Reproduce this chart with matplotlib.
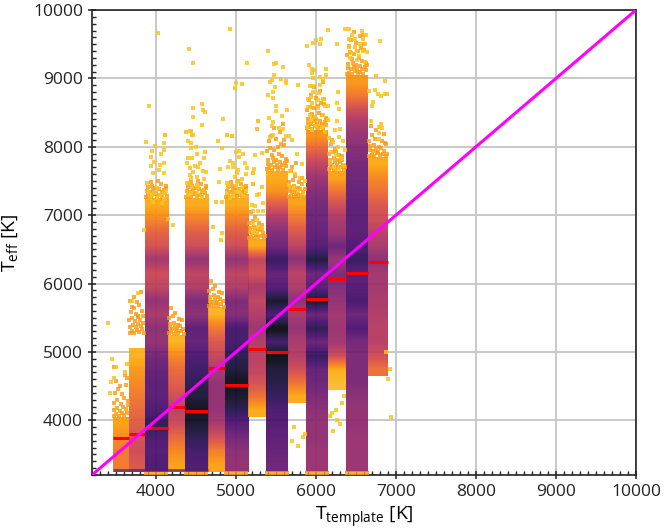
import matplotlib
matplotlib.use("Agg")
import matplotlib.pyplot as plt
import numpy as np
from matplotlib.ticker import MultipleLocator

# Teff bins are 200 K wide, first one starts at 3250 K.
TEFF_START = 3250
TEFF_STEP = 200

# left edge, right edge of each template column
COL_3500 = (3462, 3662)
COL_3750 = (3662, 3862)
COL_4000 = (3862, 4150)
COL_4250 = (4150, 4362)
COL_4500 = (4362, 4650)
COL_4750 = (4650, 4862)
COL_5000 = (4862, 5150)
COL_5250 = (5150, 5375)
COL_5500 = (5375, 5650)
COL_5750 = (5650, 5875)
COL_6000 = (5875, 6150)
COL_6250 = (6150, 6375)
COL_6500 = (6375, 6650)
COL_6750 = (6650, 6900)

# Density per Teff bin, from the bottom up (0 light, 1 black).
DENS_3500 = [0.32, 0.32, 0.27, 0.22]
DENS_3750 = [0.42, 0.46, 0.44, 0.40, 0.36, 0.32, 0.28, 0.24, 0.18]
DENS_4000 = [0.80, 0.78, 0.80, 0.88, 0.80, 0.76, 0.76, 0.74, 0.70, 0.62, 0.64, 0.56, 0.62, 0.50, 0.46, 0.58, 0.44, 0.38, 0.28, 0.20]
DENS_4250 = [0.22, 0.28, 0.36, 0.46, 0.52, 0.46, 0.40, 0.36, 0.28, 0.18]
DENS_4500 = [0.80, 0.82, 0.88, 0.94, 0.98, 0.92, 0.88, 0.84, 0.80, 0.74, 0.76, 0.64, 0.68, 0.54, 0.50, 0.62, 0.46, 0.40, 0.30, 0.20]
DENS_4750 = [0.22, 0.30, 0.44, 0.56, 0.62, 0.62, 0.62, 0.56, 0.48, 0.42, 0.32, 0.18]
DENS_5000 = [0.62, 0.64, 0.70, 0.78, 0.88, 0.94, 0.98, 0.92, 0.88, 0.82, 0.82, 0.66, 0.68, 0.54, 0.50, 0.62, 0.46, 0.40, 0.30, 0.20]
DENS_5250 = [0.20, 0.34, 0.44, 0.50, 0.52, 0.54, 0.60, 0.54, 0.50, 0.56, 0.44, 0.50, 0.20]
DENS_5500 = [0.72, 0.74, 0.76, 0.78, 0.80, 0.86, 0.90, 0.92, 1.00, 0.82, 1.00, 0.80, 0.95, 0.78, 0.74, 0.86, 0.72, 0.66, 0.56, 0.42, 0.26, 0.20]
DENS_5750 = [0.20, 0.34, 0.46, 0.54, 0.56, 0.62, 0.56, 0.64, 0.54, 0.52, 0.64, 0.50, 0.42, 0.32, 0.22]
DENS_6000 = [0.60, 0.60, 0.62, 0.62, 0.64, 0.68, 0.72, 0.74, 0.86, 0.72, 0.88, 0.72, 0.95, 0.76, 0.72, 0.92, 0.78, 0.74, 0.72, 0.70, 0.66, 0.60, 0.50, 0.38, 0.26]
DENS_6250 = [0.16, 0.20, 0.46, 0.58, 0.60, 0.58, 0.62, 0.66, 0.68, 0.60, 0.72, 0.60, 0.56, 0.46, 0.34, 0.22]
DENS_6500 = [0.60, 0.60, 0.60, 0.62, 0.62, 0.64, 0.68, 0.68, 0.68, 0.70, 0.80, 0.72, 0.82, 0.78, 0.76, 0.86, 0.80, 0.76, 0.76, 0.76, 0.74, 0.72, 0.70, 0.66, 0.62, 0.56, 0.46, 0.32, 0.24]
DENS_6750 = [0.34, 0.46, 0.52, 0.52, 0.54, 0.56, 0.58, 0.58, 0.64, 0.56, 0.52, 0.46, 0.42, 0.34, 0.28, 0.20]

# first bin index that is actually filled, for columns that end above 3250 K
LOW_BIN_5250 = 4
LOW_BIN_5750 = 5
LOW_BIN_6250 = 6
LOW_BIN_6750 = 7

# Single stars outside the solid columns.
STARS_T = [
    4025, 4925, 4412, 4462, 5137, 5000, 5075, 4987, 3912, 4575, 4462, 4587, 4612, 4462, 4837, 4575, 4112, 4375, 4437, 4462,
    4887, 4950, 5275, 5262, 3875, 4112, 3987, 4096, 3946, 4058, 4104, 3933, 3975, 3933, 4100, 4050, 4042, 4100, 3958, 3887,
    3904, 4008, 4125, 4104, 3946, 3987, 4050, 3925, 4008, 4104, 3967, 4071, 4208, 4154, 3854,
    4375, 4429, 4454, 4404, 4433, 4496, 4433, 4612, 4508, 4454, 4404, 4604, 4392, 4550, 4487, 4425, 4530, 4467, 4592, 4625,
    4425, 4508, 4604, 4383, 4440, 4400, 4508, 4454, 4529, 4592, 4437, 4396, 4508, 4571,
    4708, 4750, 4821, 4808, 4829, 4800, 4792, 4779, 4821, 4892, 4946, 5000, 5042, 5083, 4925, 4958, 5042, 5112, 4904, 4967,
    5133, 5029, 5008, 5121, 5208, 4987, 5079, 5029, 4883, 5208, 4904, 5000, 5071, 5125, 4892, 4999, 5050, 4967, 5092, 4925,
    5237, 5321, 5225, 5208, 5208, 5321, 5258, 5292, 5333, 5196, 5237, 5217, 5279, 5333, 5258, 5217, 5279, 5321, 5208, 5258,
    5400, 5475, 5500, 5583, 5475, 5450, 5425, 5487, 5558, 5625, 5625, 5467, 5404, 5458, 5500, 5500, 5642, 5570, 5417, 5275,
    5267, 5467, 5446, 5542, 5592, 5458, 5425, 5625, 5667,
    6150, 6067, 6000, 5967, 5887, 6050, 5917, 5946, 5975, 6125, 5946, 6125, 6050, 5967, 6083, 5779, 5925, 5967, 6050, 5958,
    6042, 5933, 5904, 6092, 6029, 5946, 6112, 6154, 5904, 6021, 6092, 5925, 5987, 5946, 6154, 5892, 6008, 6071, 5946, 6112,
    5700, 5760, 5820, 5680, 5740, 5800, 5860, 5660, 5720, 5780, 5840,
    6258, 6279, 6258, 6292, 6258, 6237, 6300, 6292, 6160, 6210, 6280, 6340, 6190, 6250, 6310, 6360, 6175, 6230, 6290, 6350,
    6362, 6412, 6571, 6625, 6454, 6487, 6412, 6592, 6550, 6612, 6412, 6487, 6517, 6592, 6437, 6633, 6542, 6425, 6508, 6612,
    6800, 6746, 6858, 6733, 6667, 6862, 6883, 6779, 6808, 6717, 6704, 6687, 6812, 6792, 6829, 6792, 6792,
    3400, 3420, 3440, 3480, 3640, 3505, 3615, 3450, 3700, 3780,
    5780, 5840, 5700, 5860, 5730, 6200, 6250, 6300, 6180, 6330, 6260, 6210, 6350, 6900, 6925, 6940, 6880,
]
STARS_TEFF = [
    9662, 9720, 9428, 9223, 9223, 8931, 8917, 8858, 8594, 8624, 8565, 8536, 8507, 8434, 8405, 8317, 8170, 8215, 8229, 8170,
    8170, 8156, 8375, 8258, 8064, 8176, 8015, 8059, 7942, 7888, 7952, 7854, 7771, 7723, 7757, 7732, 7659, 7610, 7610, 7464,
    7333, 7401, 7352, 7318, 7294, 7318, 7294, 7245, 7245, 7235, 7196, 7181, 6860, 6938, 6782,
    8210, 8229, 8176, 8088, 8049, 8000, 7976, 7918, 7888, 7830, 7830, 7830, 7757, 7757, 7718, 7683, 7700, 7635, 7649, 7635,
    7586, 7561, 7523, 7464, 7540, 7470, 7440, 7415, 7406, 7357, 7318, 7294, 7318, 7269,
    6826, 7186, 7186, 6636, 6733, 7674, 7479, 8083, 7976, 8171, 8161, 7927, 7937, 7888, 7791, 7766, 7854, 7757, 7708, 7708,
    7693, 7659, 7610, 7601, 7620, 7562, 7528, 7489, 7464, 7454, 7440, 7420, 7406, 7357, 7328, 7343, 7333, 7284, 7284, 7245,
    7879, 7912, 7669, 7610, 7450, 7406, 7294, 7304, 7172, 7147, 7133, 7060, 7060, 7060, 6928, 6880, 6830, 6810, 6758, 6733,
    9394, 9209, 9228, 9165, 9048, 8975, 8946, 8877, 8989, 8960, 8936, 8804, 8756, 8707, 8600, 8522, 8536, 8453, 8419, 8375,
    8258, 8366, 8302, 8268, 8253, 8170, 8146, 8161, 8161,
    9701, 9574, 9560, 9511, 9477, 9496, 9194, 9131, 9121, 9131, 9072, 9048, 9014, 9000, 8975, 8907, 8892, 8892, 8902, 8804,
    8780, 8731, 8692, 8697, 8682, 8634, 8595, 8600, 8575, 8560, 8463, 8463, 8429, 8390, 8390, 8283, 8302, 8293, 8244, 8219,
    8100, 7900, 7750, 7640, 7600, 7540, 7500, 7440, 7400, 7360, 7330,
    9501, 8804, 8634, 8546, 8375, 8244, 8253, 8137, 8130, 8070, 8000, 8090, 7930, 7880, 7820, 7950, 7770, 7710, 7680, 7740,
    9720, 9720, 9696, 9638, 9633, 9574, 9574, 9574, 9501, 9501, 9462, 9462, 9404, 9404, 9365, 9379, 9326, 9292, 9267, 9243,
    9540, 9033, 8955, 8824, 8809, 8775, 8775, 8770, 8741, 8648, 8595, 8375, 8332, 8293, 8278, 8195, 8112,
    5420, 4400, 4560, 4620, 4830, 4780, 4700, 4900, 5750, 5860,
    3630, 3750, 3700, 3800, 3900, 4100, 4150, 3950, 4060, 4250, 4000, 3850, 4350, 4600, 4750, 4050, 5000,
]

# Dense orange fringe hugging the solid columns, top and bottom.
DENSE_T = [
    3470, 3500, 3535, 3570, 3605, 3640, 3480, 3515, 3550, 3590, 3625, 3655, 3475, 3510, 3560, 3600, 3645, 3490, 3530, 3580, 3620, 3500, 3550, 3610, 3480, 3640,
    3670, 3700, 3730, 3760, 3790, 3820, 3850, 3680, 3715, 3745, 3775, 3810, 3840, 3665, 3695, 3735, 3770, 3800, 3835, 3690, 3725, 3755, 3785, 3825, 3675, 3720, 3765, 3815, 3700, 3780,
    3875, 3905, 3940, 3975, 4010, 4045, 4080, 4115, 4140, 3885, 3925, 3960, 4000, 4035, 4070, 4105, 4130, 3895, 3950, 3990, 4060, 4120, 3935, 4025,
    4160, 4190, 4220, 4250, 4280, 4310, 4345, 4170, 4205, 4235, 4265, 4300, 4335, 4180, 4225, 4270, 4320, 4160, 4210, 4290, 4240, 4185,
    4375, 4405, 4440, 4475, 4510, 4545, 4580, 4615, 4640, 4385, 4425, 4460, 4500, 4535, 4570, 4605, 4630, 4395, 4450, 4490, 4560, 4620, 4435, 4525,
    4660, 4690, 4720, 4750, 4780, 4810, 4845, 4670, 4705, 4735, 4765, 4800, 4835, 4680, 4725, 4770, 4820, 4660, 4710, 4790, 4740, 4685,
    4875, 4905, 4940, 4975, 5010, 5045, 5080, 5115, 5140, 4885, 4925, 4960, 5000, 5035, 5070, 5105, 5130, 4895, 4950, 4990, 5060, 5120, 4935, 5025,
    5160, 5190, 5220, 5250, 5280, 5310, 5345, 5170, 5205, 5235, 5265, 5300, 5335, 5180, 5225, 5270, 5320, 5160, 5210, 5290, 5240, 5185, 5360, 5330,
    5385, 5415, 5450, 5485, 5520, 5555, 5590, 5625, 5395, 5435, 5470, 5510, 5545, 5580, 5615, 5640, 5405, 5460, 5500, 5570, 5630, 5445, 5535, 5390, 5425, 5475, 5525, 5565, 5605, 5410, 5495, 5600, 5440, 5550, 5480, 5585,
    5660, 5690, 5720, 5750, 5780, 5810, 5845, 5670, 5705, 5735, 5765, 5800, 5835, 5680, 5725, 5770, 5820, 5660, 5710, 5790, 5740, 5685, 5860, 5830, 5700, 5755,
    5885, 5915, 5950, 5985, 6020, 6055, 6090, 6125, 5895, 5935, 5970, 6010, 6045, 6080, 6115, 6140, 5905, 5960, 6000, 6070, 6130, 5945, 6035, 5890, 5925, 5975, 6025, 6065, 6105, 5910, 5995, 6100, 5940, 6050, 5980, 6085,
    6160, 6190, 6220, 6250, 6280, 6310, 6345, 6170, 6205, 6235, 6265, 6300, 6335, 6180, 6225, 6270, 6320, 6160, 6210, 6290, 6240, 6185, 6360, 6330, 6200, 6255,
    6385, 6415, 6450, 6485, 6520, 6555, 6590, 6625, 6395, 6435, 6470, 6510, 6545, 6580, 6615, 6640, 6405, 6460, 6500, 6570, 6630, 6445, 6535, 6390, 6425, 6475, 6525, 6565, 6605, 6410, 6495, 6600, 6440, 6550, 6480, 6585,
    6660, 6695, 6730, 6765, 6800, 6835, 6870, 6670, 6710, 6745, 6780, 6815, 6850, 6885, 6680, 6725, 6790, 6860, 6660, 6740, 6825, 6700, 6880, 6755, 6845, 6690,
    3880, 3930, 3980, 4030, 4080, 4130, 4380, 4430, 4480, 4530, 4580, 4630, 4880, 4930, 4980, 5030, 5080, 5130,
    5390, 5440, 5490, 5540, 5590, 5640, 5890, 5940, 5990, 6040, 6090, 6140, 6390, 6440, 6490, 6540, 6590, 6640,
]
DENSE_TEFF = [
    4060, 4090, 4070, 4110, 4080, 4100, 4150, 4180, 4140, 4200, 4160, 4220, 4260, 4300, 4240, 4330, 4280, 4400, 4460, 4380, 4520, 4580, 4500, 4660, 4780, 4620,
    5270, 5300, 5280, 5320, 5290, 5330, 5280, 5360, 5400, 5370, 5410, 5380, 5420, 5460, 5500, 5450, 5510, 5470, 5530, 5580, 5640, 5560, 5680, 5600, 5740, 5800, 5730, 5880, 5660, 5520,
    7270, 7285, 7265, 7310, 7275, 7300, 7260, 7320, 7280, 7350, 7335, 7370, 7330, 7380, 7340, 7365, 7390, 7410, 7430, 7400, 7460, 7420, 7480, 7500,
    5270, 5285, 5265, 5310, 5275, 5300, 5260, 5350, 5335, 5370, 5330, 5380, 5340, 5410, 5430, 5400, 5460, 5490, 5520, 5480, 5570, 5640,
    7270, 7285, 7265, 7310, 7275, 7300, 7260, 7320, 7280, 7350, 7335, 7370, 7330, 7380, 7340, 7365, 7390, 7410, 7430, 7400, 7460, 7420, 7480, 7500,
    5670, 5685, 5665, 5710, 5675, 5700, 5660, 5750, 5735, 5770, 5730, 5780, 5740, 5810, 5830, 5800, 5860, 5890, 5920, 5880, 5970, 6040,
    7270, 7285, 7265, 7310, 7275, 7300, 7260, 7320, 7280, 7350, 7335, 7370, 7330, 7380, 7340, 7365, 7390, 7410, 7430, 7400, 7460, 7420, 7480, 7500,
    6670, 6685, 6665, 6710, 6675, 6700, 6660, 6750, 6735, 6770, 6730, 6780, 6740, 6810, 6830, 6800, 6860, 6890, 6920, 6880, 6970, 7040, 6700, 6800,
    7670, 7685, 7665, 7710, 7675, 7700, 7660, 7720, 7750, 7735, 7770, 7730, 7780, 7740, 7765, 7790, 7810, 7830, 7800, 7860, 7820, 7880, 7900, 7940, 7980, 7960, 8000, 8040, 8020, 8080, 8120, 8100, 8160, 8220, 8280, 8340,
    7270, 7285, 7265, 7310, 7275, 7300, 7260, 7350, 7335, 7370, 7330, 7380, 7340, 7410, 7430, 7400, 7460, 7490, 7520, 7480, 7570, 7640, 7380, 7540, 7700, 7760,
    8270, 8285, 8265, 8310, 8275, 8300, 8260, 8320, 8350, 8335, 8370, 8330, 8380, 8340, 8365, 8390, 8410, 8430, 8400, 8460, 8420, 8480, 8500, 8540, 8580, 8560, 8600, 8640, 8620, 8680, 8720, 8700, 8760, 8820, 8880, 8940,
    7670, 7685, 7665, 7710, 7675, 7700, 7660, 7750, 7735, 7770, 7730, 7780, 7740, 7810, 7830, 7800, 7860, 7890, 7920, 7880, 7970, 8040, 7700, 7800, 8100, 7920,
    9070, 9085, 9065, 9110, 9075, 9100, 9060, 9120, 9150, 9135, 9170, 9130, 9180, 9140, 9165, 9190, 9210, 9230, 9200, 9260, 9220, 9280, 9300, 9340, 9380, 9360, 9400, 9440, 9420, 9480, 9520, 9500, 9560, 9620, 9680, 9640,
    7870, 7885, 7865, 7910, 7875, 7900, 7860, 7950, 7935, 7970, 7930, 7980, 7940, 7900, 8010, 8030, 8000, 8060, 8090, 8120, 8080, 8170, 8040, 8240, 8180, 8300,
    3230, 3235, 3228, 3235, 3230, 3232, 3230, 3235, 3228, 3235, 3230, 3232, 3230, 3235, 3228, 3235, 3230, 3232,
    3230, 3235, 3228, 3235, 3230, 3232, 3230, 3235, 3228, 3235, 3230, 3232, 3230, 3235, 3228, 3235, 3230, 3232,
]

# Median Teff of each template column.
MEDIAN_TEFF = [3740, 3800, 3887, 4194, 4136, 4764, 4516, 5042, 5000, 5627, 5775, 6065, 6153, 6316]

# The lowest Teff cells of the cool templates pile up at the grid edge.
EDGE_TEFF = 3272


def main():
    cols = [
        (COL_3500, DENS_3500, 0),
        (COL_3750, DENS_3750, 0),
        (COL_4000, DENS_4000, 0),
        (COL_4250, DENS_4250, 0),
        (COL_4500, DENS_4500, 0),
        (COL_4750, DENS_4750, 0),
        (COL_5000, DENS_5000, 0),
        (COL_5250, DENS_5250, LOW_BIN_5250),
        (COL_5500, DENS_5500, 0),
        (COL_5750, DENS_5750, LOW_BIN_5750),
        (COL_6000, DENS_6000, 0),
        (COL_6250, DENS_6250, LOW_BIN_6250),
        (COL_6500, DENS_6500, 0),
        (COL_6750, DENS_6750, LOW_BIN_6750),
    ]

    fig = plt.figure(figsize=(6.64, 5.32), dpi=100)
    ax = fig.add_axes([92 / 664, 57 / 532, 544 / 664, 465 / 532])

    for (left, right), dens, low in cols:
        bottom = TEFF_START + low * TEFF_STEP
        top = bottom + len(dens) * TEFF_STEP
        ax.imshow(
            np.array(dens)[:, None],
            extent=(left, right, bottom, top),
            origin="lower",
            aspect="auto",
            interpolation="bilinear",
            cmap="inferno_r",
            vmin=0,
            vmax=1,
            alpha=0.92,
            zorder=2,
        )

    ax.scatter(DENSE_T, DENSE_TEFF, s=9, marker="s", color="#fa9a0e", alpha=0.8, linewidths=0, zorder=3)
    ax.scatter(STARS_T, STARS_TEFF, s=8, marker="s", color="#fbc41c", alpha=0.85, linewidths=0, zorder=3)

    ax.hlines(EDGE_TEFF, COL_3500[0], COL_4500[1], color="#5b1a6e", lw=2, alpha=0.7, zorder=3)

    for (left, right), median in zip([c[0] for c in cols], MEDIAN_TEFF):
        ax.hlines(median, left, right, color="red", lw=2.2, zorder=4)

    ax.plot([3200, 10000], [3200, 10000], color="#ff00ff", lw=2.2, zorder=5)

    ax.set_xlim(3200, 10000)
    ax.set_ylim(3200, 10000)
    ax.xaxis.set_major_locator(MultipleLocator(1000))
    ax.yaxis.set_major_locator(MultipleLocator(1000))
    ax.xaxis.set_minor_locator(MultipleLocator(100))
    ax.yaxis.set_minor_locator(MultipleLocator(100))
    ax.grid(True, which="major", color="#c8c8c8", lw=1.4)
    ax.set_axisbelow(True)
    ax.tick_params(which="major", direction="inout", length=6, width=1.1, labelsize=12.5, color="#222222", labelcolor="#222222")
    ax.tick_params(which="minor", direction="in", length=3, width=1.0, color="#222222")
    for spine in ax.spines.values():
        spine.set_linewidth(1.2)
        spine.set_color("#222222")

    ax.set_xlabel(r"T$_{\mathrm{template}}$ [K]", fontsize=14, labelpad=3)
    ax.set_ylabel(r"T$_{\mathrm{eff}}$ [K]", fontsize=14, labelpad=9)

    fig.savefig("out.png", dpi=100)


if __name__ == "__main__":
    plt.rcParams["font.family"] = ["Open Sans", "DejaVu Sans"]
    plt.rcParams["mathtext.fontset"] = "custom"
    plt.rcParams["mathtext.rm"] = "Open Sans"
    main()
